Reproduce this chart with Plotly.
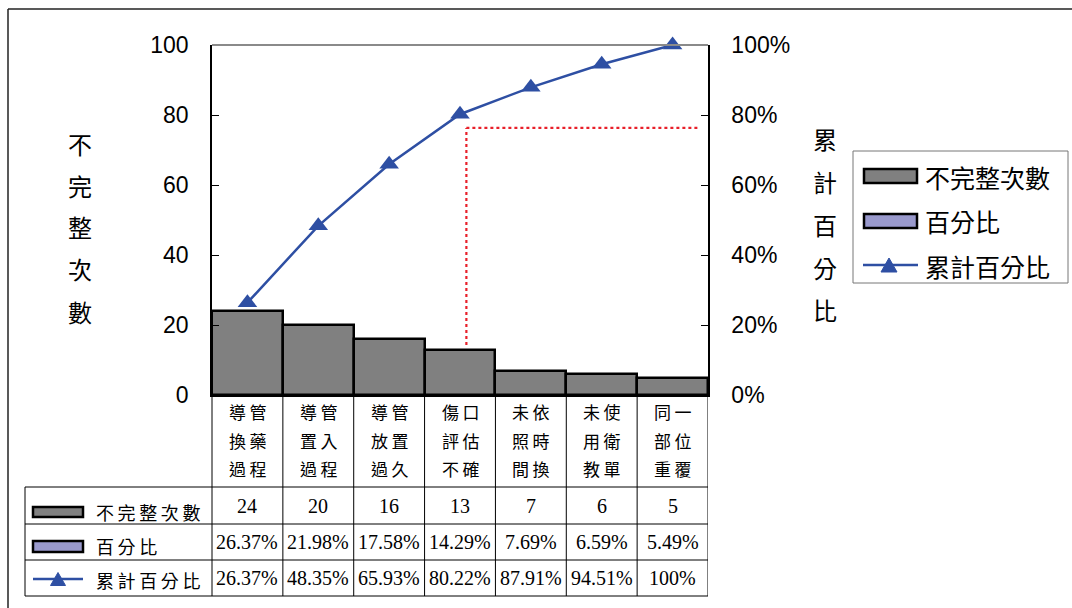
import plotly.graph_objects as go

W, H = 1072, 608

# ---------------- data ----------------
category_lines = [
    ["導管", "換藥", "過程"],
    ["導管", "置入", "過程"],
    ["導管", "放置", "過久"],
    ["傷口", "評估", "不確"],
    ["未依", "照時", "間換"],
    ["未使", "用衛", "教單"],
    ["同一", "部位", "重覆"],
]
counts = [24, 20, 16, 13, 7, 6, 5]
percent_labels = ["26.37%", "21.98%", "17.58%", "14.29%", "7.69%", "6.59%", "5.49%"]
cumulative = [0.2637, 0.4835, 0.6593, 0.8022, 0.8791, 0.9451, 1.00]
cumulative_labels = ["26.37%", "48.35%", "65.93%", "80.22%", "87.91%", "94.51%", "100%"]
series_names = ["不完整次數", "百分比", "累計百分比"]
left_ticks = [0, 20, 40, 60, 80, 100]
right_ticks = [0, 0.2, 0.4, 0.6, 0.8, 1.0]
left_title = "不完整次數"
right_title = "累計百分比"
# red dotted guide (data coords: x index, y2 fraction)
guide_x0, guide_x1, guide_ybot, guide_ytop = 3.09, 6.39, 0.143, 0.763

# ---------------- style ----------------
BAR_COLOR = "#808080"
PCT_COLOR = "#9999CC"
LINE_COLOR = "#2E4FA3"
SANS = "Liberation Sans, Arial, sans-serif"
CJK = "Noto Sans CJK TC, sans-serif"
TABLE_FONT = "Liberation Serif, Noto Sans CJK TC, serif"


def X(px):
    return px / W


def Y(py):
    return 1 - py / H


idx = list(range(len(counts)))

fig = go.Figure()
fig.add_trace(go.Bar(
    x=idx, y=counts, width=1, name=series_names[0],
    marker=dict(color=BAR_COLOR, line=dict(color="black", width=2.5)),
    showlegend=False,
))
fig.add_trace(go.Scatter(
    x=idx, y=cumulative, yaxis="y2", name=series_names[2],
    mode="lines+markers", cliponaxis=False,
    line=dict(color=LINE_COLOR, width=2.5),
    marker=dict(symbol="triangle-up", size=17, color=LINE_COLOR),
    showlegend=False,
))

shapes = []
ann = []

# plot frame pieces
shapes.append(dict(type="line", xref="paper", yref="paper", x0=X(212), x1=X(708), y0=Y(45), y1=Y(45),
                   line=dict(color="#8a8a8a", width=2)))
# outer border
shapes.append(dict(type="line", xref="paper", yref="paper", x0=X(8), x1=1, y0=Y(9), y1=Y(9),
                   line=dict(color="#222", width=1.5)))
shapes.append(dict(type="line", xref="paper", yref="paper", x0=X(8), x1=X(8), y0=Y(9), y1=0,
                   line=dict(color="#222", width=1.5)))

# red dotted guide
shapes.append(dict(type="line", xref="x", yref="y2", x0=guide_x0, x1=guide_x0, y0=guide_ybot, y1=guide_ytop,
                   line=dict(color="#E8202A", width=2.2, dash="dot")))
shapes.append(dict(type="line", xref="x", yref="y2", x0=guide_x0, x1=guide_x1, y0=guide_ytop, y1=guide_ytop,
                   line=dict(color="#E8202A", width=2.2, dash="dot")))

# ---------------- data table ----------------
row_top, row1, row2, row3, row_bot = 395, 487, 524, 560, 596
tline = dict(color="black", width=1)
for yy in [row1, row2, row3, row_bot]:
    shapes.append(dict(type="line", xref="paper", yref="paper", x0=X(25), x1=X(708), y0=Y(yy), y1=Y(yy), line=tline))
shapes.append(dict(type="line", xref="paper", yref="paper", x0=X(25), x1=X(25), y0=Y(row1), y1=Y(row_bot), line=tline))
shapes.append(dict(type="line", xref="paper", yref="paper", x0=X(212), x1=X(212), y0=Y(row_top), y1=Y(row_bot), line=tline))
for i in range(len(counts)):
    shapes.append(dict(type="line", xref="x", yref="paper", x0=i + 0.5, x1=i + 0.5, y0=Y(row_top), y1=Y(row_bot), line=tline))

label_line_y = [413, 442, 470]
for i, lines in enumerate(category_lines):
    for ly, txt in zip(label_line_y, lines):
        ann.append(dict(xref="x", yref="paper", x=i, y=Y(ly), text="\u2009".join(txt), showarrow=False,
                        font=dict(family=TABLE_FONT, size=17, color="black"), xanchor="center", yanchor="middle"))
    ann.append(dict(xref="x", yref="paper", x=i, y=Y(506), text=str(counts[i]), showarrow=False,
                    font=dict(family=TABLE_FONT, size=20, color="black"), xanchor="center", yanchor="middle"))
    ann.append(dict(xref="x", yref="paper", x=i, y=Y(542), text=percent_labels[i], showarrow=False,
                    font=dict(family=TABLE_FONT, size=20, color="black"), xanchor="center", yanchor="middle"))
    ann.append(dict(xref="x", yref="paper", x=i, y=Y(578), text=cumulative_labels[i], showarrow=False,
                    font=dict(family=TABLE_FONT, size=20, color="black"), xanchor="center", yanchor="middle"))

# table legend keys
shapes.append(dict(type="rect", xref="paper", yref="paper", x0=X(33), x1=X(83), y0=Y(517), y1=Y(507),
                   fillcolor=BAR_COLOR, line=dict(color="black", width=2.5)))
shapes.append(dict(type="rect", xref="paper", yref="paper", x0=X(33), x1=X(83), y0=Y(552), y1=Y(541),
                   fillcolor=PCT_COLOR, line=dict(color="black", width=2.5)))
shapes.append(dict(type="line", xref="paper", yref="paper", x0=X(33), x1=X(83), y0=Y(579), y1=Y(579),
                   line=dict(color=LINE_COLOR, width=2.5)))


def tri(cx, cy, w, h):
    return (f"M {X(cx - w / 2)} {Y(cy + h / 2)} L {X(cx + w / 2)} {Y(cy + h / 2)} "
            f"L {X(cx)} {Y(cy - h / 2)} Z")


shapes.append(dict(type="path", xref="paper", yref="paper", path=tri(58, 579, 15, 13),
                   fillcolor=LINE_COLOR, line=dict(color=LINE_COLOR, width=1)))
for yy, name in zip([512, 546, 580], series_names):
    ann.append(dict(xref="paper", yref="paper", x=X(94), y=Y(yy), text="\u2009".join(name), showarrow=False,
                    font=dict(family=CJK, size=18, color="black"), xanchor="left", yanchor="middle"))

# ---------------- right legend ----------------
shapes.append(dict(type="rect", xref="paper", yref="paper", x0=X(853), x1=X(1068), y0=Y(283), y1=Y(151),
                   fillcolor="white", line=dict(color="#777", width=1)))
shapes.append(dict(type="rect", xref="paper", yref="paper", x0=X(864), x1=X(917), y0=Y(183), y1=Y(169),
                   fillcolor=BAR_COLOR, line=dict(color="black", width=2.5)))
shapes.append(dict(type="rect", xref="paper", yref="paper", x0=X(864), x1=X(917), y0=Y(228), y1=Y(214),
                   fillcolor=PCT_COLOR, line=dict(color="black", width=2.5)))
shapes.append(dict(type="line", xref="paper", yref="paper", x0=X(863), x1=X(918), y0=Y(265), y1=Y(265),
                   line=dict(color=LINE_COLOR, width=2.5)))
shapes.append(dict(type="path", xref="paper", yref="paper", path=tri(889, 265, 16, 14),
                   fillcolor=LINE_COLOR, line=dict(color=LINE_COLOR, width=1)))
for yy, name in zip([177, 221, 266], series_names):
    ann.append(dict(xref="paper", yref="paper", x=X(923), y=Y(yy), text=name, showarrow=False,
                    font=dict(family=CJK, size=25, color="black"), xanchor="left", yanchor="middle"))

# ---------------- axis titles (stacked characters) ----------------
for k, ch in enumerate(left_title):
    ann.append(dict(xref="paper", yref="paper", x=X(80), y=Y(143 + 42 * k), text=ch, showarrow=False,
                    font=dict(family=CJK, size=24, color="black"), xanchor="center", yanchor="middle"))
for k, ch in enumerate(right_title):
    ann.append(dict(xref="paper", yref="paper", x=X(825), y=Y(138 + 43 * k), text=ch, showarrow=False,
                    font=dict(family=CJK, size=24, color="black"), xanchor="center", yanchor="middle"))

fig.update_layout(
    template="none",
    width=W, height=H, autosize=False,
    margin=dict(l=0, r=0, t=0, b=0, pad=0, autoexpand=False),
    paper_bgcolor="white", plot_bgcolor="white",
    bargap=0, showlegend=False,
    xaxis=dict(domain=[X(212), X(708)], range=[-0.5, len(counts) - 0.5], showticklabels=False,
               showgrid=False, zeroline=False, ticks="", showline=True, linecolor="black", linewidth=2,
               fixedrange=True, automargin=False),
    yaxis=dict(domain=[Y(395), Y(45)], range=[0, 100], tickvals=left_ticks, ticks="inside", ticklen=7,
               tickcolor="black", showline=True, linecolor="black", linewidth=1.5, showgrid=False,
               zeroline=False, ticklabelstandoff=17, automargin=False,
               tickfont=dict(family=SANS, size=23, color="black")),
    yaxis2=dict(overlaying="y", side="right", anchor="x", range=[0, 1], tickvals=right_ticks,
                tickformat=".0%", ticks="inside", ticklen=7, tickcolor="black", showline=True,
                linecolor="black", linewidth=1.5, showgrid=False, zeroline=False, ticklabelstandoff=17,
                automargin=False, tickfont=dict(family=SANS, size=23, color="black")),
    shapes=shapes, annotations=ann,
)

fig.write_html("out.html")
